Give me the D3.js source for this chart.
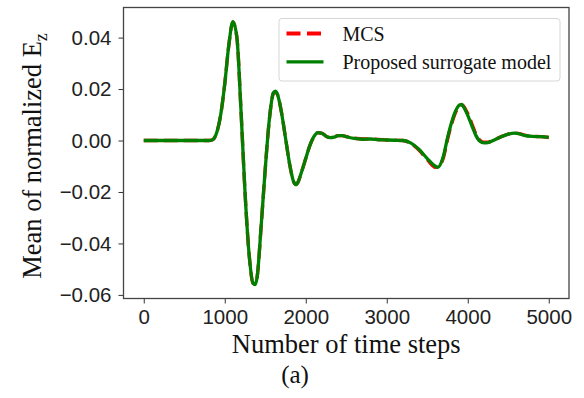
<!DOCTYPE html>
<html>
<head>
<meta charset="utf-8">
<script src="https://cdn.jsdelivr.net/npm/d3@7"></script>
<style>
  body { margin: 0; background: #fff; }
  svg { display: block; }
</style>
</head>
<body>
<svg id="chart" width="584" height="398"></svg>
<script>
const steps = [0, 200, 400, 600, 800, 850, 900, 950, 1000, 1050, 1100, 1150, 1200, 1250, 1300, 1350, 1375, 1400, 1450,
  1500, 1550, 1600, 1625, 1650, 1700, 1750, 1800, 1850, 1880, 1900, 1950, 2000, 2050, 2100, 2150, 2200,
  2250, 2300, 2350, 2400, 2450, 2500, 2600, 2700, 2800, 2900, 3000, 3100, 3200, 3300, 3400, 3500, 3600,
  3630, 3700, 3750, 3800, 3850, 3900, 3925, 3950, 4000, 4050, 4100, 4150, 4200, 4250, 4300, 4400, 4500,
  4580, 4650, 4700, 4800, 4900, 5000];

const surrogate = [0, 0, 0, 0, 0, 0.0003, 0.003, 0.010, 0.022, 0.037, 0.0462, 0.040, 0.012, -0.020, -0.044, -0.0555, -0.056, -0.053, -0.033,
  -0.011, 0.008, 0.0185, 0.0192, 0.0180, 0.011, 0.001, -0.009, -0.0160, -0.0172, -0.0165, -0.012, -0.007, -0.002, 0.0015, 0.0031, 0.0028,
  0.0017, 0.0011, 0.0013, 0.0019, 0.0019, 0.0015, 0.0008, 0.0005, 0.0006, 0.0003, 0.0002, 0.0001, 0.0, -0.0010, -0.0035, -0.0070, -0.0100,
  -0.0104, -0.0060, 0.0010, 0.0070, 0.0115, 0.0138, 0.0140, 0.0130, 0.0098, 0.0058, 0.0020, -0.0003, -0.0009, -0.0008, -0.0002, 0.0013, 0.0025,
  0.0029, 0.0025, 0.0020, 0.0016, 0.0015, 0.0012];

const mcs = [0, 0, 0, 0, 0, 0.0003, 0.003, 0.010, 0.022, 0.037, 0.0460, 0.040, 0.012, -0.020, -0.044, -0.0555, -0.0558, -0.053, -0.033,
  -0.011, 0.008, 0.0183, 0.0190, 0.0179, 0.011, 0.001, -0.009, -0.0160, -0.0170, -0.0164, -0.012, -0.007, -0.002, 0.0015, 0.0030, 0.0028,
  0.0017, 0.0012, 0.0014, 0.0019, 0.0019, 0.0015, 0.0009, 0.0006, 0.0006, 0.0004, 0.0002, 0.0001, 0.0, -0.0012, -0.0038, -0.0074, -0.0104,
  -0.0102, -0.0066, 0.0004, 0.0064, 0.0110, 0.0135, 0.0139, 0.0133, 0.0104, 0.0066, 0.0026, 0.0001, -0.0007, -0.0007, -0.0001, 0.0013, 0.0025,
  0.0029, 0.0026, 0.0021, 0.0017, 0.0015, 0.0012];

const xTicks = [0, 1000, 2000, 3000, 4000, 5000];
const yTicks = [-0.06, -0.04, -0.02, 0.00, 0.02, 0.04];
const legendLabels = ["MCS", "Proposed surrogate model"];

const svg = d3.select("#chart");
const plotL = 123.5, plotR = 569, plotT = 7.5, plotB = 298.5;

const x = d3.scaleLinear().domain([-250, 5250]).range([plotL, plotR]);
const y = d3.scaleLinear().domain([-0.0614, 0.0517]).range([plotB, plotT]);

const sans = "'Liberation Sans', Arial, sans-serif";
const serif = "'Liberation Serif', 'Times New Roman', serif";

// axes
const xAxis = svg.append("g")
  .attr("transform", `translate(0,${plotB})`)
  .call(d3.axisBottom(x).tickValues(xTicks).tickSize(5).tickPadding(4).tickFormat(d3.format("d")));
const yAxis = svg.append("g")
  .attr("transform", `translate(${plotL},0)`)
  .call(d3.axisLeft(y).tickValues(yTicks).tickSize(5).tickPadding(7).tickFormat(d3.format(".2f")));

[xAxis, yAxis].forEach(g => {
  g.select(".domain").remove();
  g.selectAll(".tick line").attr("stroke", "#333").attr("stroke-width", 1);
  g.selectAll(".tick text").attr("fill", "#222").style("font-family", sans).style("font-size", "20.5px");
});
xAxis.selectAll(".tick text").attr("dy", "0.8em");

// frame
svg.append("rect")
  .attr("x", plotL).attr("y", plotT)
  .attr("width", plotR - plotL).attr("height", plotB - plotT)
  .attr("fill", "none").attr("stroke", "#444").attr("stroke-width", 1.3);

const line = d3.line().curve(d3.curveMonotoneX);

const mcsPts = steps.map((s, i) => [x(s), y(mcs[i])]);
const surPts = steps.map((s, i) => [x(s), y(surrogate[i])]);

svg.append("path")
  .attr("d", line(mcsPts))
  .attr("fill", "none").attr("stroke", "#ff0000")
  .attr("stroke-width", 3.4).attr("stroke-dasharray", "14,6");

svg.append("path")
  .attr("d", line(surPts))
  .attr("fill", "none").attr("stroke", "#008000")
  .attr("stroke-width", 3.3);

// legend
const lg = svg.append("g");
lg.append("rect")
  .attr("x", 279).attr("y", 18.5).attr("width", 281).attr("height", 62.5)
  .attr("rx", 3).attr("fill", "#fff").attr("fill-opacity", 0.8)
  .attr("stroke", "#d6d6d6").attr("stroke-width", 1);

const legendStyles = [
  { color: "#ff0000", dash: "14,6.5", w: 4 },
  { color: "#008000", dash: null, w: 3.3 }
];
legendLabels.forEach((lab, i) => {
  const cy = 33.5 + i * 28.3;
  lg.append("line")
    .attr("x1", 286.5).attr("x2", 323.5).attr("y1", cy).attr("y2", cy)
    .attr("stroke", legendStyles[i].color).attr("stroke-width", legendStyles[i].w)
    .attr("stroke-dasharray", legendStyles[i].dash);
  lg.append("text")
    .attr("x", 342.5).attr("y", cy + 7.5)
    .style("font-family", serif).style("font-size", "20px").attr("fill", "#111")
    .text(lab);
});

// axis titles
svg.append("text")
  .attr("x", (plotL + plotR) / 2).attr("y", 353)
  .attr("text-anchor", "middle")
  .style("font-family", serif).style("font-size", "26.5px").attr("fill", "#111")
  .text("Number of time steps");

const yt = svg.append("text")
  .attr("transform", `translate(41,156) rotate(-90)`)
  .attr("text-anchor", "middle")
  .style("font-family", serif).style("font-size", "26.5px").attr("fill", "#111");
yt.append("tspan").text("Mean of normalized E");
yt.append("tspan").attr("dy", 6).style("font-size", "18px").text("z");

svg.append("text")
  .attr("x", 295).attr("y", 383)
  .attr("text-anchor", "middle")
  .style("font-family", serif).style("font-size", "25px").attr("fill", "#111")
  .text("(a)");
</script>
</body>
</html>
